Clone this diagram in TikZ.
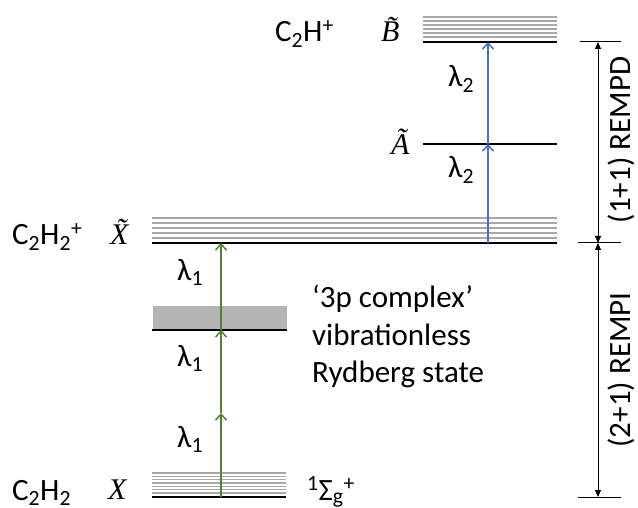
\documentclass[tikz,border=0pt]{standalone}
\usepackage{fontspec}
\setmainfont{Carlito}
\newfontfamily\serifit{Liberation Serif}
\usetikzlibrary{arrows.meta}
\definecolor{lvgray}{RGB}{168,168,168}
\definecolor{boxgray}{RGB}{180,180,180}
\definecolor{grn}{RGB}{84,130,53}
\definecolor{blu}{RGB}{68,114,196}
\tikzset{
  level/.style={line width=2.2pt,black},
  sub/.style={line width=1.4pt,lvgray},
  grnarr/.style={line width=1.5pt,grn,-{Straight Barb[length=6pt,width=11pt,line width=1.5pt]}},
  bluarr/.style={line width=1.5pt,blu,-{Straight Barb[length=6pt,width=11pt,line width=1.5pt]}},
  dim/.style={line width=1pt,{Triangle[length=7pt,width=6pt]}-{Triangle[length=7pt,width=6pt]}},
  tick/.style={line width=1pt},
  lbl/.style={inner sep=0pt,anchor=base west,font=\fontsize{31}{37}\selectfont},
  sym/.style={inner sep=0pt,anchor=base west,font=\fontsize{30}{36}\serifit\itshape},
  rot/.style={inner sep=0pt,rotate=90,font=\fontsize{31}{37}\selectfont},
}
\begin{document}
\begin{tikzpicture}[x=1pt,y=-1pt]
\useasboundingbox (0,0) rectangle (638,508);
% B state
\foreach \y in {17,21,25,29,33,37} \draw[sub] (423,\y) -- (557,\y);
\draw[level] (423,42) -- (557,42);
% A state
\draw[level] (423,144) -- (557,144);
% X~ state
\foreach \y in {218,223,228,233,238} \draw[sub] (152,\y) -- (557,\y);
\draw[level] (152,243) -- (557,243);
% Rydberg box
\fill[boxgray] (153,306) rectangle (287,330);
\draw[level] (152,330) -- (287,330);
% X state
\foreach \y in {473,476.3,479.6,482.9,486.2,489.5,492.8} \draw[sub] (152,\y) -- (286,\y);
\draw[level] (152,497) -- (286,497);
% coordinates
\coordinate (g0) at (221,497);
\coordinate (g1) at (221,413);
\coordinate (g2) at (221,330);
\coordinate (g3) at (221,243);
\coordinate (b0) at (488,243);
\coordinate (b1) at (488,144);
\coordinate (b2) at (488,42);
\draw[grnarr] (g0) -- (g1);
\draw[grnarr] (g1) -- (g2);
\draw[grnarr] (g2) -- (g3);
\draw[bluarr] (b0) -- (b1);
\draw[bluarr] (b1) -- (b2);
% dimension bracket
\coordinate (d0) at (598,42);
\coordinate (d1) at (598,243);
\coordinate (d2) at (598,497);
\draw[tick] (580,42) -- (621,42);
\draw[tick] (578,243) -- (621,243);
\draw[tick] (578,497) -- (621,497);
\draw[dim] (d0) -- (d1);
\draw[dim] (d1) -- (d2);
\node[rot] (rempd) at (621,140) {(1+1) REMPD};
\node[rot] (rempi) at (621,370) {(2+1) REMPI};
% labels
\node[lbl] (c2h) at (275,42) {C\textsubscript{2}H\textsuperscript{+}};
\node[sym] (bt) at (381,42) {\~{B}};
\node[sym] (at) at (391,155) {\~{A}};
\node[lbl] (c2h2p) at (12,245) {C\textsubscript{2}H\textsubscript{2}\textsuperscript{+}};
\node[sym] (xt) at (110,244) {\~{X}};
\node[lbl] (c2h2) at (12,500) {C\textsubscript{2}H\textsubscript{2}};
\node[sym] (x) at (108,499) {X};
\node[lbl] (sig) at (307,500) {\textsuperscript{1}Σ\textsubscript{g}\textsuperscript{+}};
\node[lbl] (l1a) at (177,280) {λ\textsubscript{1}};
\node[lbl] (l1b) at (177,366) {λ\textsubscript{1}};
\node[lbl] (l1c) at (177,447) {λ\textsubscript{1}};
\node[lbl] (l2a) at (448,87) {λ\textsubscript{2}};
\node[lbl] (l2b) at (448,178) {λ\textsubscript{2}};
\node[lbl] (t1) at (312,307) {‘3p complex’};
\node[lbl] (t2) at (312,345) {vibrationless};
\node[lbl] (t3) at (312,382) {Rydberg state};
\end{tikzpicture}
\end{document}
